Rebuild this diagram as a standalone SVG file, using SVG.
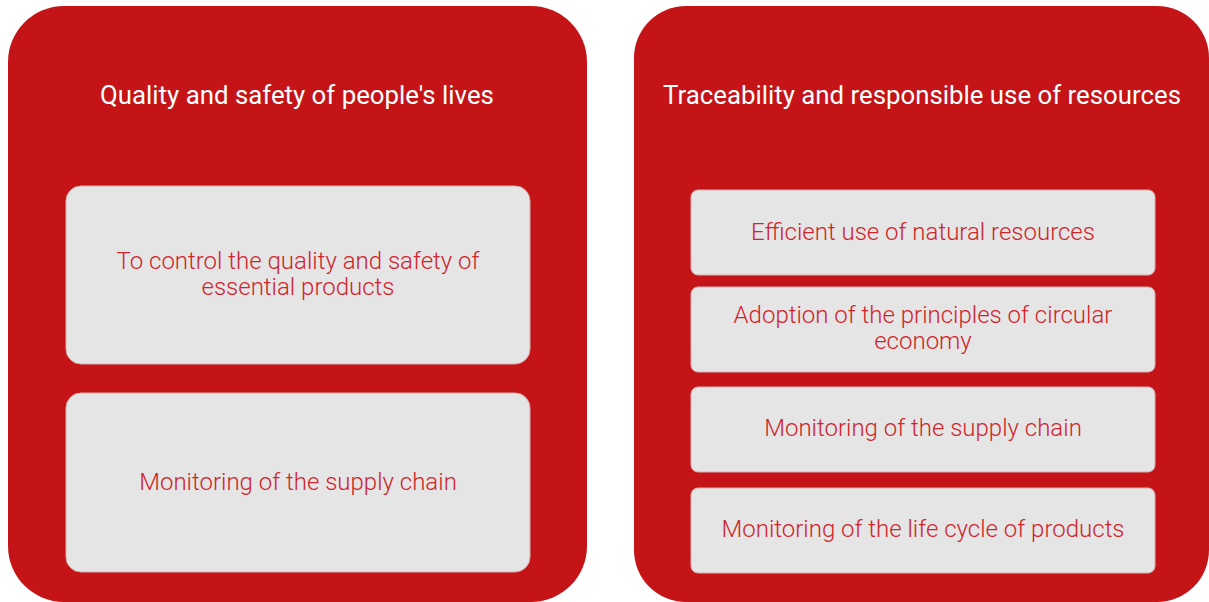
<svg xmlns="http://www.w3.org/2000/svg" width="1209" height="602" viewBox="0 0 1209 602">
<style>
.panel{fill:#c41417}
.box{fill:#e5e5e5;stroke:#d6b3b3;stroke-width:1}
.title{font-family:Roboto,"Liberation Sans",sans-serif;font-size:25.8px;fill:#ffffff;text-anchor:middle;font-weight:400}
.lbl{font-family:Roboto,"Liberation Sans",sans-serif;font-size:24px;fill:#d0242b;text-anchor:middle;font-weight:300}
</style>
<rect width="1209" height="602" fill="#ffffff"/>
<g id="panel-left">
<rect class="panel" x="8" y="6" width="579" height="596" rx="56" ry="56"/>
<text class="title" x="297" y="104">Quality and safety of people's lives</text>
</g>
<g id="panel-right">
<rect class="panel" x="634" y="6" width="575" height="596" rx="52" ry="52"/>
<text class="title" x="922" y="104">Traceability and responsible use of resources</text>
</g>
<g id="box-l1">
<rect class="box" x="66" y="186" width="464" height="178" rx="15" ry="15"/>
<text class="lbl" x="298" y="269">To control the quality and safety of</text>
<text class="lbl" x="298" y="295">essential products</text>
</g>
<g id="box-l2">
<rect class="box" x="66" y="393" width="464" height="179" rx="15" ry="15"/>
<text class="lbl" x="298" y="490">Monitoring of the supply chain</text>
</g>
<g id="box-r1">
<rect class="box" x="691" y="190" width="464" height="85" rx="7" ry="7"/>
<text class="lbl" x="923" y="240">Efficient use of natural resources</text>
</g>
<g id="box-r2">
<rect class="box" x="691" y="287" width="464" height="85" rx="7" ry="7"/>
<text class="lbl" x="923" y="323">Adoption of the principles of circular</text>
<text class="lbl" x="923" y="349">economy</text>
</g>
<g id="box-r3">
<rect class="box" x="691" y="387" width="464" height="85" rx="7" ry="7"/>
<text class="lbl" x="923" y="436">Monitoring of the supply chain</text>
</g>
<g id="box-r4">
<rect class="box" x="691" y="488" width="464" height="85" rx="7" ry="7"/>
<text class="lbl" x="923" y="537">Monitoring of the life cycle of products</text>
</g>
<g id="connectors"></g>
</svg>
